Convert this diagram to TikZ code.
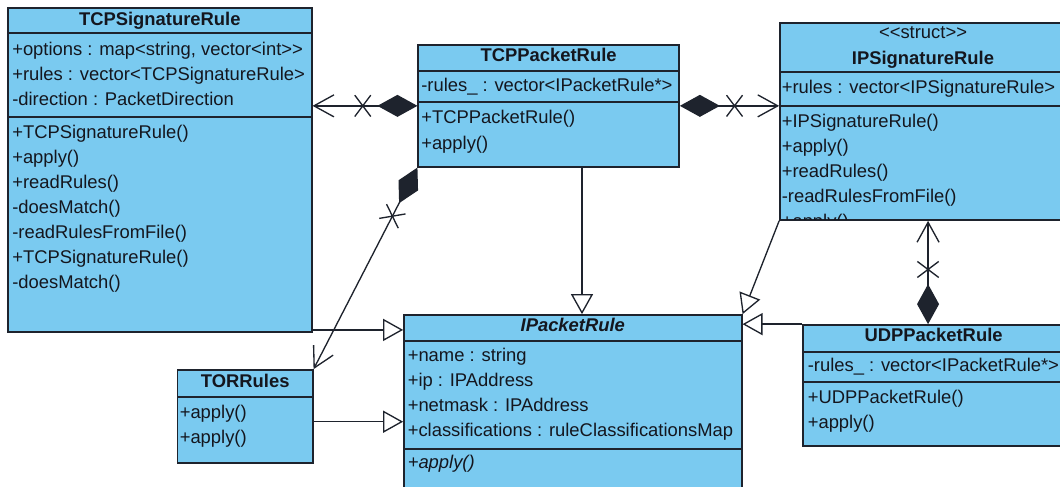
\documentclass[tikz,border=0pt]{standalone}
\usepackage{fontspec}
\setmainfont{Liberation Sans}
\usetikzlibrary{arrows.meta,fit,decorations.markings}

\definecolor{classfill}{RGB}{122,202,240}
\definecolor{classedge}{RGB}{30,35,45}
\definecolor{classtext}{RGB}{20,22,30}

\tikzset{
  cls/.style={draw=classedge, fill=classfill, line width=1.3pt, inner sep=0pt},
  sep/.style={draw=classedge, line width=1.3pt},
  member/.style={anchor=mid west, inner sep=0pt, text=classtext,
    font=\fontsize{13.8}{16}\selectfont},
  title/.style={anchor=mid, inner sep=0pt, text=classtext,
    font=\fontsize{13.8}{16}\selectfont\bfseries},
  conn/.style={draw=classedge, line width=1pt},
  gen/.style={conn, -{Triangle[length=15pt, width=16.5pt, fill=white]}},
  compose/.style={conn,
    {Diamond[length=30pt, width=16.5pt]}-{Straight Barb[length=15pt, width=16.5pt]},
    postaction={decorate},
    decoration={markings, mark=at position 41pt with
      {\draw[-, classedge, line width=1pt] (-6pt,-8pt) -- (6pt,8pt) (-6pt,8pt) -- (6pt,-8pt);}}}
}

\begin{document}
\begin{tikzpicture}[x=0.75pt, y=-0.75pt]
\useasboundingbox (0,0) rectangle (1060,486);
\fill[white] (0,0) rectangle (1060,486);
\clip (0,0) rectangle (1060,486);

% ---------- TCPSignatureRule ----------
\node[cls, fit={(8,8) (311.7,331.7)}] (tsr) {};
\draw[sep] (8,33.3) -- (311.7,33.3) (8,116.7) -- (311.7,116.7);
\node[title] (tsrT) at (159.8,21.5) {TCPSignatureRule};
\node[member] (tsrA1) at (12,51.7) {+options : map<string, vector<int>{}>};
\node[member] (tsrA2) at (12,76.7) {+rules : vector<TCPSignatureRule>};
\node[member] (tsrA3) at (12,101.7) {-direction : PacketDirection};
\node[member] (tsrM1) at (12,135) {+TCPSignatureRule()};
\node[member] (tsrM2) at (12,160) {+apply()};
\node[member] (tsrM3) at (12,185) {+readRules()};
\node[member] (tsrM4) at (12,210) {-doesMatch()};
\node[member] (tsrM5) at (12,235) {-readRulesFromFile()};
\node[member] (tsrM6) at (12,260) {+TCPSignatureRule()};
\node[member] (tsrM7) at (12,285) {-doesMatch()};

% ---------- TCPPacketRule ----------
\node[cls, fit={(418.3,45) (679,166.7)}] (tpr) {};
\draw[sep] (418.3,70.7) -- (679,70.7) (418.3,102.3) -- (679,102.3);
\node[title] (tprT) at (548.6,58) {TCPPacketRule};
\node[member] (tprA1) at (421,87.5) {-rules\_ : vector<IPacketRule*>};
\node[member] (tprM1) at (421,120) {+TCPPacketRule()};
\node[member] (tprM2) at (421,146) {+apply()};

% ---------- IPSignatureRule ----------
\node[cls, fit={(780,23.3) (1066,220)}] (ipsr) {};
\draw[sep] (780,72.3) -- (1066,72.3) (780,105.7) -- (1066,105.7);
\node[member, anchor=mid] (ipsrS) at (923,35) {<{}<struct>{}>};
\node[title] (ipsrT) at (923,60.5) {IPSignatureRule};
\node[member] (ipsrA1) at (781.5,90) {+rules : vector<IPSignatureRule>};
\node[member] (ipsrM1) at (781.5,124) {+IPSignatureRule()};
\node[member] (ipsrM2) at (781.5,149) {+apply()};
\node[member] (ipsrM3) at (781.5,174) {+readRules()};
\node[member] (ipsrM4) at (781.5,199) {-readRulesFromFile()};
\begin{scope}
  \clip (780,23.3) rectangle (1066,219.5);
  \node[member] (ipsrM5) at (781.5,224) {+apply()};
\end{scope}

% ---------- IPacketRule ----------
\node[cls, fit={(404,315) (741.7,495)}] (ipr) {};
\draw[sep] (404,340.7) -- (741.7,340.7) (404,449) -- (741.7,449);
\node[title, font=\fontsize{13.8}{16}\selectfont\bfseries\itshape] (iprT) at (572.8,328) {IPacketRule};
\node[member] (iprA1) at (407.5,358) {+name : string};
\node[member] (iprA2) at (407.5,383) {+ip : IPAddress};
\node[member] (iprA3) at (407.5,408) {+netmask : IPAddress};
\node[member] (iprA4) at (407.5,433) {+classifications : ruleClassificationsMap};
\node[member, font=\fontsize{13.8}{16}\selectfont\itshape] (iprM1) at (407.5,465) {+apply()};

% ---------- TORRules ----------
\node[cls, fit={(177.6,370) (312.7,463)}] (tor) {};
\draw[sep] (177.6,396.7) -- (312.7,396.7);
\node[title] (torT) at (245.2,383.5) {TORRules};
\node[member] (torM1) at (179.5,415) {+apply()};
\node[member] (torM2) at (179.5,440) {+apply()};

% ---------- UDPPacketRule ----------
\node[cls, fit={(803.3,325) (1064,445.7)}] (udp) {};
\draw[sep] (803.3,351.7) -- (1064,351.7) (803.3,381.7) -- (1064,381.7);
\node[title] (udpT) at (933.6,338) {UDPPacketRule};
\node[member] (udpA1) at (807.5,367.5) {-rules\_ : vector<IPacketRule*>};
\node[member] (udpM1) at (807.5,400) {+UDPPacketRule()};
\node[member] (udpM2) at (807.5,425) {+apply()};

% ---------- compositions (navigable) ----------
\draw[compose] (tpr.west) -- (tpr.west -| tsr.east);
\draw[compose] (tpr.east) -- (tpr.east -| ipsr.west);
\draw[compose] (tpr.south west) -- (tor.north east);
\draw[compose] ([xshift=-4.2pt]udp.north) -- ([xshift=-4.2pt]udp.north |- ipsr.south);

% ---------- generalizations ----------
\draw[gen] ([xshift=25pt]tpr.south) -- ([xshift=25pt]tpr.south |- ipr.north);
\draw[gen] ([yshift=2pt]tsr.south east) -- ([yshift=2pt]tsr.south east -| ipr.west);
\draw[gen] ([yshift=-3.9pt]tor.east) -- ([yshift=-3.9pt]tor.east -| ipr.west);
\draw[gen] (ipsr.south west) -- (ipr.north east);
\draw[gen] (udp.north west) -- (udp.north west -| ipr.east);
\end{tikzpicture}
\end{document}
